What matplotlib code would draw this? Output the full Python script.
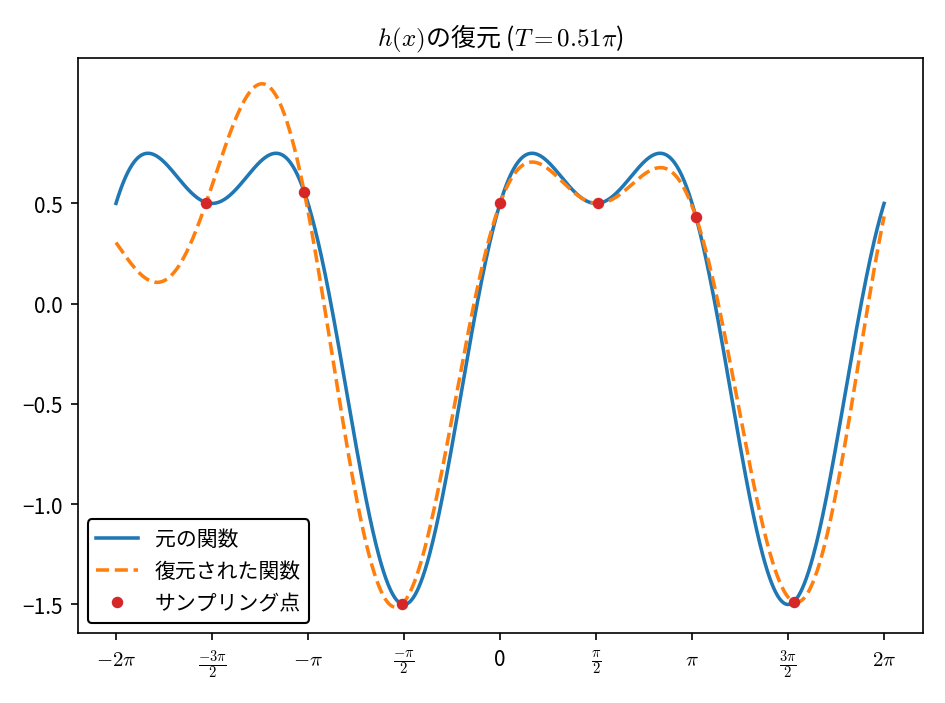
import numpy as np
import matplotlib
matplotlib.use("Agg")
import matplotlib.pyplot as plt

plt.rcParams['font.family'] = ['Noto Sans CJK JP', 'DejaVu Sans']
plt.rcParams['mathtext.fontset'] = 'cm'
plt.rcParams['axes.unicode_minus'] = True

T_factor = 0.51
tick_vals = [-2, -1.5, -1, -0.5, 0, 0.5, 1, 1.5, 2]
tick_labels = [r'$-2\pi$', r'$\frac{-3\pi}{2}$', r'$-\pi$', r'$\frac{-\pi}{2}$', '0',
               r'$\frac{\pi}{2}$', r'$\pi$', r'$\frac{3\pi}{2}$', r'$2\pi$']
label_orig = '元の関数'
label_rec = '復元された関数'
label_samp = 'サンプリング点'

def h(x):
    return np.sin(x) + 0.5 * np.cos(2 * x)

T = T_factor * np.pi
x = np.linspace(-2 * np.pi, 2 * np.pi, 1000)
n_all = np.arange(-4, 5)
rec = np.sum([h(n * T) * np.sinc((x - n * T) / T) for n in n_all], axis=0)
ns = n_all[np.abs(n_all * T) <= 2 * np.pi]
xs = ns * T

fig, ax = plt.subplots(figsize=(6.3, 4.693), dpi=150)
ax.plot(x, h(x), color='#1f77b4', lw=1.7, label=label_orig)
ax.plot(x, rec, '--', color='#ff7f0e', lw=1.7, label=label_rec)
ax.plot(xs, h(xs), 'o', color='#d62728', ms=4.5, label=label_samp)
ax.set_xticks(np.array(tick_vals) * np.pi)
ax.set_xticklabels(tick_labels)
ax.set_yticks([-1.5, -1.0, -0.5, 0.0, 0.5])
ax.set_title(r'$h(x)$の復元 ($T=0.51\pi$)')
ax.legend(loc='lower left', edgecolor='black', framealpha=1, fancybox=True)
fig.tight_layout()
fig.savefig('out.png', dpi=150)
